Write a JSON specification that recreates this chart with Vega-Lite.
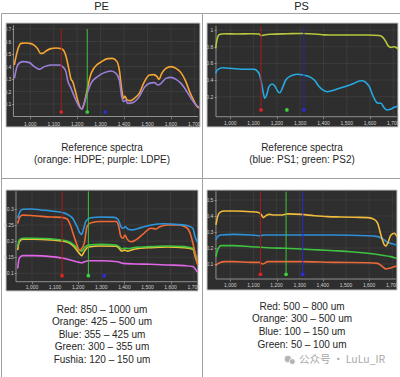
{
"$schema": "https://vega.github.io/schema/vega-lite/v6.json",
"padding": 0,
"spacing": 0,
"bounds": "flush",
"columns": 2,
"background": "white",
"config": {
 "view": {"stroke": "#a0a0a0", "strokeWidth": 1},
 "font": "Liberation Sans",
 "axis": {"zindex": 2, "domain": false, "grid": false, "labels": false, "tickColor": "#b8b8b8", "tickSize": 2, "tickWidth": 0.6, "titleFont": "Liberation Sans", "titleFontSize": 10, "titleFontWeight": "normal", "titleColor": "#262626"}
},
"datasets": {
 "xl": [{"g":1000,"l":"1,000"},{"g":1100,"l":"1,100"},{"g":1200,"l":"1,200"},{"g":1300,"l":"1,300"},{"g":1400,"l":"1,400"},{"g":1500,"l":"1,500"},{"g":1600,"l":"1,600"},{"g":1700,"l":"1,700"}],
 "peRef": [
  {"s":"HDPE","w":931.7,"a":0.412},{"s":"HDPE","w":946,"a":0.532},{"s":"HDPE","w":960,"a":0.585},{"s":"HDPE","w":981,"a":0.588},{"s":"HDPE","w":1003,"a":0.583},{"s":"HDPE","w":1017,"a":0.569},{"s":"HDPE","w":1031,"a":0.543},{"s":"HDPE","w":1043,"a":0.505},{"s":"HDPE","w":1053,"a":0.505},{"s":"HDPE","w":1067,"a":0.524},{"s":"HDPE","w":1088,"a":0.543},{"s":"HDPE","w":1110,"a":0.548},{"s":"HDPE","w":1131,"a":0.543},{"s":"HDPE","w":1141,"a":0.532},{"s":"HDPE","w":1152,"a":0.484},{"s":"HDPE","w":1164,"a":0.385},{"s":"HDPE","w":1174,"a":0.297},{"s":"HDPE","w":1181,"a":0.279},{"s":"HDPE","w":1191,"a":0.212},{"s":"HDPE","w":1202,"a":0.132},{"s":"HDPE","w":1213,"a":0.071},{"s":"HDPE","w":1221,"a":0.060},{"s":"HDPE","w":1230,"a":0.105},{"s":"HDPE","w":1242,"a":0.207},{"s":"HDPE","w":1256,"a":0.324},{"s":"HDPE","w":1273,"a":0.391},{"s":"HDPE","w":1302,"a":0.436},{"s":"HDPE","w":1330,"a":0.463},{"s":"HDPE","w":1351,"a":0.465},{"s":"HDPE","w":1370,"a":0.439},{"s":"HDPE","w":1380,"a":0.372},{"s":"HDPE","w":1390,"a":0.217},{"s":"HDPE","w":1398,"a":0.145},{"s":"HDPE","w":1404,"a":0.164},{"s":"HDPE","w":1413,"a":0.132},{"s":"HDPE","w":1427,"a":0.127},{"s":"HDPE","w":1444,"a":0.145},{"s":"HDPE","w":1465,"a":0.185},{"s":"HDPE","w":1487,"a":0.279},{"s":"HDPE","w":1508,"a":0.332},{"s":"HDPE","w":1526,"a":0.335},{"s":"HDPE","w":1541,"a":0.319},{"s":"HDPE","w":1549,"a":0.297},{"s":"HDPE","w":1561,"a":0.345},{"s":"HDPE","w":1579,"a":0.385},{"s":"HDPE","w":1600,"a":0.399},{"s":"HDPE","w":1622,"a":0.385},{"s":"HDPE","w":1643,"a":0.351},{"s":"HDPE","w":1664,"a":0.279},{"s":"HDPE","w":1683,"a":0.185},{"s":"HDPE","w":1700,"a":0.119},{"s":"HDPE","w":1712,"a":0.078},{"s":"HDPE","w":1721,"a":0.068},
  {"s":"LDPE","w":932,"a":0.305},{"s":"LDPE","w":946,"a":0.412},{"s":"LDPE","w":967,"a":0.439},{"s":"LDPE","w":996,"a":0.431},{"s":"LDPE","w":1017,"a":0.399},{"s":"LDPE","w":1038,"a":0.377},{"s":"LDPE","w":1060,"a":0.399},{"s":"LDPE","w":1088,"a":0.412},{"s":"LDPE","w":1124,"a":0.412},{"s":"LDPE","w":1138,"a":0.399},{"s":"LDPE","w":1152,"a":0.359},{"s":"LDPE","w":1159,"a":0.292},{"s":"LDPE","w":1174,"a":0.225},{"s":"LDPE","w":1188,"a":0.159},{"s":"LDPE","w":1209,"a":0.079},{"s":"LDPE","w":1219,"a":0.060},{"s":"LDPE","w":1230,"a":0.105},{"s":"LDPE","w":1245,"a":0.199},{"s":"LDPE","w":1259,"a":0.265},{"s":"LDPE","w":1287,"a":0.319},{"s":"LDPE","w":1316,"a":0.351},{"s":"LDPE","w":1344,"a":0.364},{"s":"LDPE","w":1366,"a":0.345},{"s":"LDPE","w":1380,"a":0.292},{"s":"LDPE","w":1390,"a":0.159},{"s":"LDPE","w":1398,"a":0.119},{"s":"LDPE","w":1408,"a":0.132},{"s":"LDPE","w":1415,"a":0.105},{"s":"LDPE","w":1437,"a":0.111},{"s":"LDPE","w":1465,"a":0.159},{"s":"LDPE","w":1487,"a":0.233},{"s":"LDPE","w":1508,"a":0.265},{"s":"LDPE","w":1529,"a":0.271},{"s":"LDPE","w":1546,"a":0.252},{"s":"LDPE","w":1558,"a":0.265},{"s":"LDPE","w":1579,"a":0.305},{"s":"LDPE","w":1600,"a":0.313},{"s":"LDPE","w":1622,"a":0.297},{"s":"LDPE","w":1643,"a":0.265},{"s":"LDPE","w":1664,"a":0.212},{"s":"LDPE","w":1686,"a":0.145},{"s":"LDPE","w":1707,"a":0.092},{"s":"LDPE","w":1721,"a":0.073}
 ],
 "psRef": [
  {"s":"PS2","w":937,"a":0.78},{"s":"PS2","w":944,"a":0.90},{"s":"PS2","w":953,"a":0.945},{"s":"PS2","w":974,"a":0.955},{"s":"PS2","w":1030,"a":0.952},{"s":"PS2","w":1089,"a":0.955},{"s":"PS2","w":1123,"a":0.952},{"s":"PS2","w":1133,"a":0.932},{"s":"PS2","w":1145,"a":0.94},{"s":"PS2","w":1173,"a":0.95},{"s":"PS2","w":1246,"a":0.955},{"s":"PS2","w":1304,"a":0.958},{"s":"PS2","w":1375,"a":0.95},{"s":"PS2","w":1404,"a":0.942},{"s":"PS2","w":1447,"a":0.94},{"s":"PS2","w":1518,"a":0.94},{"s":"PS2","w":1590,"a":0.94},{"s":"PS2","w":1640,"a":0.935},{"s":"PS2","w":1654,"a":0.915},{"s":"PS2","w":1668,"a":0.86},{"s":"PS2","w":1678,"a":0.81},{"s":"PS2","w":1690,"a":0.792},{"s":"PS2","w":1704,"a":0.80},{"s":"PS2","w":1712,"a":0.79},{"s":"PS2","w":1721,"a":0.772},
  {"s":"PS1","w":937,"a":0.481},{"s":"PS1","w":944,"a":0.520},{"s":"PS1","w":966,"a":0.548},{"s":"PS1","w":994,"a":0.541},{"s":"PS1","w":1059,"a":0.529},{"s":"PS1","w":1102,"a":0.529},{"s":"PS1","w":1123,"a":0.481},{"s":"PS1","w":1133,"a":0.380},{"s":"PS1","w":1142,"a":0.241},{"s":"PS1","w":1148,"a":0.181},{"s":"PS1","w":1156,"a":0.221},{"s":"PS1","w":1166,"a":0.320},{"s":"PS1","w":1180,"a":0.353},{"s":"PS1","w":1191,"a":0.329},{"s":"PS1","w":1205,"a":0.260},{"s":"PS1","w":1213,"a":0.248},{"s":"PS1","w":1223,"a":0.301},{"s":"PS1","w":1238,"a":0.400},{"s":"PS1","w":1259,"a":0.448},{"s":"PS1","w":1288,"a":0.469},{"s":"PS1","w":1313,"a":0.460},{"s":"PS1","w":1332,"a":0.448},{"s":"PS1","w":1361,"a":0.400},{"s":"PS1","w":1382,"a":0.320},{"s":"PS1","w":1397,"a":0.281},{"s":"PS1","w":1418,"a":0.260},{"s":"PS1","w":1447,"a":0.281},{"s":"PS1","w":1490,"a":0.320},{"s":"PS1","w":1532,"a":0.361},{"s":"PS1","w":1554,"a":0.388},{"s":"PS1","w":1569,"a":0.392},{"s":"PS1","w":1583,"a":0.368},{"s":"PS1","w":1597,"a":0.320},{"s":"PS1","w":1611,"a":0.221},{"s":"PS1","w":1626,"a":0.140},{"s":"PS1","w":1636,"a":0.121},{"s":"PS1","w":1647,"a":0.121},{"s":"PS1","w":1659,"a":0.073},{"s":"PS1","w":1673,"a":0.041},{"s":"PS1","w":1687,"a":0.049},{"s":"PS1","w":1704,"a":0.073},{"s":"PS1","w":1721,"a":0.089}
 ],
 "peSize": [
  {"s":"Fushia","w":938,"a":0.115},{"s":"Fushia","w":945,"a":0.147},{"s":"Fushia","w":960,"a":0.155},{"s":"Fushia","w":1010,"a":0.155},{"s":"Fushia","w":1082,"a":0.152},{"s":"Fushia","w":1154,"a":0.144},{"s":"Fushia","w":1183,"a":0.138},{"s":"Fushia","w":1205,"a":0.134},{"s":"Fushia","w":1215,"a":0.133},{"s":"Fushia","w":1227,"a":0.136},{"s":"Fushia","w":1244,"a":0.139},{"s":"Fushia","w":1299,"a":0.139},{"s":"Fushia","w":1371,"a":0.136},{"s":"Fushia","w":1392,"a":0.131},{"s":"Fushia","w":1443,"a":0.129},{"s":"Fushia","w":1515,"a":0.128},{"s":"Fushia","w":1587,"a":0.126},{"s":"Fushia","w":1659,"a":0.124},{"s":"Fushia","w":1696,"a":0.121},{"s":"Fushia","w":1710,"a":0.110},{"s":"Fushia","w":1717,"a":0.103},
  {"s":"Orange","w":938,"a":0.172},{"s":"Orange","w":945,"a":0.198},{"s":"Orange","w":960,"a":0.206},{"s":"Orange","w":1010,"a":0.206},{"s":"Orange","w":1082,"a":0.204},{"s":"Orange","w":1154,"a":0.197},{"s":"Orange","w":1183,"a":0.182},{"s":"Orange","w":1205,"a":0.162},{"s":"Orange","w":1215,"a":0.155},{"s":"Orange","w":1227,"a":0.169},{"s":"Orange","w":1244,"a":0.182},{"s":"Orange","w":1299,"a":0.185},{"s":"Orange","w":1364,"a":0.184},{"s":"Orange","w":1378,"a":0.177},{"s":"Orange","w":1388,"a":0.169},{"s":"Orange","w":1400,"a":0.172},{"s":"Orange","w":1414,"a":0.169},{"s":"Orange","w":1443,"a":0.175},{"s":"Orange","w":1515,"a":0.180},{"s":"Orange","w":1587,"a":0.182},{"s":"Orange","w":1659,"a":0.180},{"s":"Orange","w":1696,"a":0.175},{"s":"Orange","w":1710,"a":0.144},{"s":"Orange","w":1717,"a":0.130},
  {"s":"Green","w":938,"a":0.183},{"s":"Green","w":945,"a":0.204},{"s":"Green","w":960,"a":0.209},{"s":"Green","w":1010,"a":0.209},{"s":"Green","w":1082,"a":0.207},{"s":"Green","w":1154,"a":0.200},{"s":"Green","w":1183,"a":0.188},{"s":"Green","w":1205,"a":0.172},{"s":"Green","w":1215,"a":0.169},{"s":"Green","w":1227,"a":0.180},{"s":"Green","w":1244,"a":0.188},{"s":"Green","w":1299,"a":0.190},{"s":"Green","w":1364,"a":0.188},{"s":"Green","w":1378,"a":0.182},{"s":"Green","w":1388,"a":0.176},{"s":"Green","w":1400,"a":0.178},{"s":"Green","w":1414,"a":0.177},{"s":"Green","w":1443,"a":0.180},{"s":"Green","w":1515,"a":0.183},{"s":"Green","w":1587,"a":0.185},{"s":"Green","w":1659,"a":0.183},{"s":"Green","w":1696,"a":0.178},{"s":"Green","w":1710,"a":0.152},{"s":"Green","w":1717,"a":0.136},
  {"s":"Red","w":938,"a":0.255},{"s":"Red","w":948,"a":0.276},{"s":"Red","w":960,"a":0.281},{"s":"Red","w":1010,"a":0.279},{"s":"Red","w":1082,"a":0.275},{"s":"Red","w":1126,"a":0.274},{"s":"Red","w":1152,"a":0.269},{"s":"Red","w":1166,"a":0.250},{"s":"Red","w":1180,"a":0.219},{"s":"Red","w":1195,"a":0.188},{"s":"Red","w":1206,"a":0.172},{"s":"Red","w":1215,"a":0.176},{"s":"Red","w":1227,"a":0.196},{"s":"Red","w":1238,"a":0.245},{"s":"Red","w":1255,"a":0.257},{"s":"Red","w":1299,"a":0.261},{"s":"Red","w":1364,"a":0.261},{"s":"Red","w":1374,"a":0.250},{"s":"Red","w":1385,"a":0.214},{"s":"Red","w":1394,"a":0.209},{"s":"Red","w":1403,"a":0.219},{"s":"Red","w":1411,"a":0.207},{"s":"Red","w":1429,"a":0.198},{"s":"Red","w":1450,"a":0.204},{"s":"Red","w":1479,"a":0.221},{"s":"Red","w":1515,"a":0.240},{"s":"Red","w":1537,"a":0.238},{"s":"Red","w":1551,"a":0.244},{"s":"Red","w":1587,"a":0.250},{"s":"Red","w":1631,"a":0.250},{"s":"Red","w":1667,"a":0.243},{"s":"Red","w":1685,"a":0.224},{"s":"Red","w":1700,"a":0.183},{"s":"Red","w":1717,"a":0.126},
  {"s":"Blue","w":938,"a":0.271},{"s":"Blue","w":948,"a":0.292},{"s":"Blue","w":960,"a":0.299},{"s":"Blue","w":996,"a":0.300},{"s":"Blue","w":1039,"a":0.297},{"s":"Blue","w":1082,"a":0.294},{"s":"Blue","w":1126,"a":0.290},{"s":"Blue","w":1154,"a":0.283},{"s":"Blue","w":1176,"a":0.271},{"s":"Blue","w":1195,"a":0.245},{"s":"Blue","w":1209,"a":0.224},{"s":"Blue","w":1215,"a":0.221},{"s":"Blue","w":1224,"a":0.240},{"s":"Blue","w":1234,"a":0.263},{"s":"Blue","w":1255,"a":0.273},{"s":"Blue","w":1299,"a":0.275},{"s":"Blue","w":1356,"a":0.274},{"s":"Blue","w":1374,"a":0.266},{"s":"Blue","w":1385,"a":0.245},{"s":"Blue","w":1395,"a":0.240},{"s":"Blue","w":1404,"a":0.245},{"s":"Blue","w":1414,"a":0.238},{"s":"Blue","w":1436,"a":0.235},{"s":"Blue","w":1472,"a":0.242},{"s":"Blue","w":1515,"a":0.250},{"s":"Blue","w":1573,"a":0.254},{"s":"Blue","w":1631,"a":0.252},{"s":"Blue","w":1674,"a":0.248},{"s":"Blue","w":1696,"a":0.240},{"s":"Blue","w":1706,"a":0.214},{"s":"Blue","w":1717,"a":0.196}
 ],
 "psSize": [
  {"s":"Red","w":938,"a":0.090},{"s":"Red","w":948,"a":0.104},{"s":"Red","w":974,"a":0.115},{"s":"Red","w":1017,"a":0.115},{"s":"Red","w":1089,"a":0.110},{"s":"Red","w":1125,"a":0.110},{"s":"Red","w":1140,"a":0.100},{"s":"Red","w":1150,"a":0.106},{"s":"Red","w":1161,"a":0.115},{"s":"Red","w":1233,"a":0.115},{"s":"Red","w":1305,"a":0.115},{"s":"Red","w":1449,"a":0.110},{"s":"Red","w":1594,"a":0.108},{"s":"Red","w":1637,"a":0.104},{"s":"Red","w":1658,"a":0.083},{"s":"Red","w":1673,"a":0.069},{"s":"Red","w":1687,"a":0.073},{"s":"Red","w":1709,"a":0.083},{"s":"Red","w":1720,"a":0.088},
  {"s":"Green","w":938,"a":0.146},{"s":"Green","w":945,"a":0.188},{"s":"Green","w":960,"a":0.215},{"s":"Green","w":1017,"a":0.215},{"s":"Green","w":1089,"a":0.208},{"s":"Green","w":1161,"a":0.202},{"s":"Green","w":1233,"a":0.198},{"s":"Green","w":1305,"a":0.194},{"s":"Green","w":1377,"a":0.188},{"s":"Green","w":1449,"a":0.183},{"s":"Green","w":1521,"a":0.177},{"s":"Green","w":1594,"a":0.167},{"s":"Green","w":1651,"a":0.156},{"s":"Green","w":1694,"a":0.146},{"s":"Green","w":1720,"a":0.135},
  {"s":"Blue","w":938,"a":0.25},{"s":"Blue","w":945,"a":0.271},{"s":"Blue","w":960,"a":0.281},{"s":"Blue","w":1017,"a":0.285},{"s":"Blue","w":1089,"a":0.281},{"s":"Blue","w":1125,"a":0.277},{"s":"Blue","w":1147,"a":0.281},{"s":"Blue","w":1233,"a":0.281},{"s":"Blue","w":1305,"a":0.281},{"s":"Blue","w":1449,"a":0.281},{"s":"Blue","w":1594,"a":0.277},{"s":"Blue","w":1637,"a":0.271},{"s":"Blue","w":1666,"a":0.25},{"s":"Blue","w":1680,"a":0.235},{"s":"Blue","w":1694,"a":0.229},{"s":"Blue","w":1709,"a":0.223},{"s":"Blue","w":1720,"a":0.215},
  {"s":"Orange","w":938,"a":0.344},{"s":"Orange","w":945,"a":0.396},{"s":"Orange","w":955,"a":0.423},{"s":"Orange","w":974,"a":0.431},{"s":"Orange","w":1017,"a":0.431},{"s":"Orange","w":1089,"a":0.427},{"s":"Orange","w":1118,"a":0.423},{"s":"Orange","w":1133,"a":0.410},{"s":"Orange","w":1143,"a":0.390},{"s":"Orange","w":1154,"a":0.402},{"s":"Orange","w":1169,"a":0.410},{"s":"Orange","w":1190,"a":0.406},{"s":"Orange","w":1219,"a":0.406},{"s":"Orange","w":1248,"a":0.413},{"s":"Orange","w":1305,"a":0.410},{"s":"Orange","w":1363,"a":0.402},{"s":"Orange","w":1421,"a":0.396},{"s":"Orange","w":1478,"a":0.394},{"s":"Orange","w":1536,"a":0.392},{"s":"Orange","w":1594,"a":0.390},{"s":"Orange","w":1622,"a":0.379},{"s":"Orange","w":1637,"a":0.354},{"s":"Orange","w":1651,"a":0.281},{"s":"Orange","w":1666,"a":0.219},{"s":"Orange","w":1673,"a":0.213},{"s":"Orange","w":1680,"a":0.229},{"s":"Orange","w":1694,"a":0.281},{"s":"Orange","w":1709,"a":0.292},{"s":"Orange","w":1720,"a":0.271}
 ]
},
"concat": [
  {"width": 201, "height": 13, "data": {"values": [{"t": "PE"}]}, "mark": {"type": "text", "fontSize": 11, "color": "#222222", "font": "Liberation Sans"}, "encoding": {"text": {"field": "t"}}},
  {"width": 199, "height": 13, "data": {"values": [{"t": "PS"}]}, "mark": {"type": "text", "fontSize": 11, "color": "#222222", "font": "Liberation Sans"}, "encoding": {"text": {"field": "t"}}},
  {"width": 201, "height": 165, "resolve": {"scale": {"color": "independent"}},
   "layer": [
    {"data": {"values": [{}]}, "mark": {"type": "rect", "fill": "#2e2e2e", "stroke": "#c8c8c8", "strokeWidth": 1}, "encoding": {"x": {"datum": 896.3, "type": "quantitative"}, "x2": {"datum": 1724.3}, "y": {"datum": 0.748, "type": "quantitative"}, "y2": {"datum": -0.084}}},
    {"data": {"name": "xl"}, "mark": {"type": "rule", "color": "#444444", "strokeWidth": 0.6}, "encoding": {"x": {"field": "g", "type": "quantitative"}, "y": {"datum": 0, "type": "quantitative"}, "y2": {"datum": 0.73}}},
    {"data": {"values": [{"g":0.1,"l":"0.1"},{"g":0.2,"l":"0.2"},{"g":0.3,"l":"0.3"},{"g":0.4,"l":"0.4"},{"g":0.5,"l":"0.5"},{"g":0.6,"l":"0.6"},{"g":0.7,"l":"0.7"}]},
     "layer": [
      {"mark": {"type": "rule", "color": "#444444", "strokeWidth": 0.6}, "encoding": {"y": {"field": "g", "type": "quantitative"}, "x": {"datum": 928, "type": "quantitative"}, "x2": {"datum": 1716}}},
      {"mark": {"type": "text", "align": "right", "baseline": "middle", "fontSize": 5, "color": "#d0d0d0"}, "encoding": {"y": {"field": "g", "type": "quantitative"}, "x": {"datum": 919, "type": "quantitative"}, "text": {"field": "l"}}}
     ]},
    {"data": {"name": "xl"}, "mark": {"type": "text", "align": "center", "baseline": "middle", "fontSize": 5, "color": "#d0d0d0"}, "encoding": {"x": {"field": "g", "type": "quantitative"}, "y": {"datum": -0.056, "type": "quantitative"}, "text": {"field": "l"}}},
    {"data": {"values": [{}]}, "mark": {"type": "rule", "color": "#a8a8a8", "strokeWidth": 0.8}, "encoding": {"x": {"datum": 928, "type": "quantitative"}, "x2": {"datum": 1716}, "y": {"datum": 0, "type": "quantitative"}}},
    {"data": {"values": [{}]}, "mark": {"type": "rule", "color": "#a8a8a8", "strokeWidth": 0.8}, "encoding": {"x": {"datum": 928, "type": "quantitative"}, "y": {"datum": 0, "type": "quantitative"}, "y2": {"datum": 0.73}}},
    {"data": {"name": "peRef"}, "mark": {"type": "line", "strokeWidth": 1.6, "interpolate": "monotone"},
     "encoding": {
      "x": {"field": "w", "type": "quantitative", "scale": {"domain": [874.9, 1732.8], "nice": false, "zero": false},
        "axis": {"zindex": 2, "labels": false, "orient": "bottom", "offset": -61.3, "values": [1000,1100,1200,1300,1400,1500,1600,1700], "title": ["Reference spectra", "(orange: HDPE; purple: LDPE)"], "titleY": 25.3, "titleBaseline": "top", "titleLineHeight": 12, "titleAnchor": "middle"}},
      "y": {"field": "a", "type": "quantitative", "scale": {"domain": [-0.492, 0.828], "nice": false, "zero": false},
        "axis": {"zindex": 2, "labels": false, "orient": "left", "offset": -12.5, "values": [0.1,0.2,0.3,0.4,0.5,0.6,0.7], "title": null}},
      "color": {"field": "s", "type": "nominal", "scale": {"domain": ["HDPE", "LDPE"], "range": ["#f7a531", "#9a7ed8"]}, "legend": null}}},
    {"data": {"values": [{"m":"r","w":1132},{"m":"g","w":1243}]}, "mark": {"type": "rule", "strokeWidth": 1},
     "encoding": {"x": {"field": "w", "type": "quantitative"}, "y": {"datum": 0.03, "type": "quantitative"}, "y2": {"datum": 0.7}, "color": {"field": "m", "type": "nominal", "scale": {"domain": ["r","g","b"], "range": ["#a51d1d","#3cc43c","#2b2bd0"]}, "legend": null}}},
    {"data": {"values": [{"m":"r","w":1132},{"m":"g","w":1243},{"m":"b","w":1320}]}, "mark": {"type": "point", "filled": true, "opacity": 1, "size": 14, "shape": "circle"},
     "encoding": {"x": {"field": "w", "type": "quantitative"}, "y": {"datum": 0.036, "type": "quantitative"}, "color": {"field": "m", "type": "nominal", "scale": {"domain": ["r","g","b"], "range": ["#e02424","#3cd23c","#2b2be0"]}, "legend": null}}}
   ]},
  {"width": 199, "height": 165, "resolve": {"scale": {"color": "independent"}},
   "layer": [
    {"data": {"values": [{}]}, "mark": {"type": "rect", "fill": "#2e2e2e", "stroke": "#c8c8c8", "strokeWidth": 1}, "encoding": {"x": {"datum": 899.9, "type": "quantitative"}, "x2": {"datum": 1720}, "y": {"datum": 1.084, "type": "quantitative"}, "y2": {"datum": -0.163}}},
    {"data": {"name": "xl"}, "mark": {"type": "rule", "color": "#444444", "strokeWidth": 0.6}, "encoding": {"x": {"field": "g", "type": "quantitative"}, "y": {"datum": -0.04, "type": "quantitative"}, "y2": {"datum": 1.05}}},
    {"data": {"values": [{"g":0.2,"l":"0.2"},{"g":0.4,"l":"0.4"},{"g":0.6,"l":"0.6"},{"g":0.8,"l":"0.8"},{"g":1.0,"l":"1"}]},
     "layer": [
      {"mark": {"type": "rule", "color": "#444444", "strokeWidth": 0.6}, "encoding": {"y": {"field": "g", "type": "quantitative"}, "x": {"datum": 938.6, "type": "quantitative"}, "x2": {"datum": 1715.6}}},
      {"mark": {"type": "text", "align": "right", "baseline": "middle", "fontSize": 5, "color": "#d0d0d0"}, "encoding": {"y": {"field": "g", "type": "quantitative"}, "x": {"datum": 927, "type": "quantitative"}, "text": {"field": "l"}}}
     ]},
    {"data": {"name": "xl"}, "mark": {"type": "text", "align": "center", "baseline": "middle", "fontSize": 5, "color": "#d0d0d0"}, "encoding": {"x": {"field": "g", "type": "quantitative"}, "y": {"datum": -0.111, "type": "quantitative"}, "text": {"field": "l"}}},
    {"data": {"values": [{}]}, "mark": {"type": "rule", "color": "#a8a8a8", "strokeWidth": 0.8}, "encoding": {"x": {"datum": 938.6, "type": "quantitative"}, "x2": {"datum": 1715.6}, "y": {"datum": -0.04, "type": "quantitative"}}},
    {"data": {"values": [{}]}, "mark": {"type": "rule", "color": "#a8a8a8", "strokeWidth": 0.8}, "encoding": {"x": {"datum": 938.6, "type": "quantitative"}, "y": {"datum": -0.04, "type": "quantitative"}, "y2": {"datum": 1.05}}},
    {"data": {"name": "psRef"}, "mark": {"type": "line", "strokeWidth": 1.6, "interpolate": "monotone"},
     "encoding": {
      "x": {"field": "w", "type": "quantitative", "scale": {"domain": [878.5, 1732.9], "nice": false, "zero": false},
        "axis": {"zindex": 2, "labels": false, "orient": "bottom", "offset": -61.3, "values": [1000,1100,1200,1300,1400,1500,1600,1700], "title": ["Reference spectra", "(blue: PS1; green: PS2)"], "titleY": 25.3, "titleBaseline": "top", "titleLineHeight": 12, "titleAnchor": "middle"}},
      "y": {"field": "a", "type": "quantitative", "scale": {"domain": [-0.775, 1.204], "nice": false, "zero": false},
        "axis": {"zindex": 2, "labels": false, "orient": "left", "offset": -14, "values": [0.2,0.4,0.6,0.8,1.0], "title": null}},
      "color": {"field": "s", "type": "nominal", "scale": {"domain": ["PS2", "PS1"], "range": ["#b8c73e", "#27a9e1"]}, "legend": null}}},
    {"data": {"values": [{"m":"r","w":1132},{"m":"b","w":1316}]}, "mark": {"type": "rule", "strokeWidth": 1},
     "encoding": {"x": {"field": "w", "type": "quantitative"}, "y": {"datum": 0.065, "type": "quantitative"}, "y2": {"datum": 1.05}, "color": {"field": "m", "type": "nominal", "scale": {"domain": ["r","g","b"], "range": ["#a51d1d","#3cc43c","#2a2a9a"]}, "legend": null}}},
    {"data": {"values": [{"m":"r","w":1132},{"m":"g","w":1243},{"m":"b","w":1316}]}, "mark": {"type": "point", "filled": true, "opacity": 1, "size": 14, "shape": "circle"},
     "encoding": {"x": {"field": "w", "type": "quantitative"}, "y": {"datum": 0.041, "type": "quantitative"}, "color": {"field": "m", "type": "nominal", "scale": {"domain": ["r","g","b"], "range": ["#e02424","#3cd23c","#2b2be0"]}, "legend": null}}}
   ]},
  {"width": 201, "height": 199, "resolve": {"scale": {"color": "independent"}},
   "layer": [
    {"data": {"values": [{}]}, "mark": {"type": "rect", "fill": "#2e2e2e", "stroke": "#c8c8c8", "strokeWidth": 1}, "encoding": {"x": {"datum": 887.4, "type": "quantitative"}, "x2": {"datum": 1718.6}, "y": {"datum": 0.359, "type": "quantitative"}, "y2": {"datum": 0.045}}},
    {"data": {"name": "xl"}, "mark": {"type": "rule", "color": "#444444", "strokeWidth": 0.6}, "encoding": {"x": {"field": "g", "type": "quantitative"}, "y": {"datum": 0.0739, "type": "quantitative"}, "y2": {"datum": 0.355}}},
    {"data": {"values": [{"g":0.1,"l":"0.1"},{"g":0.15,"l":"0.15"},{"g":0.2,"l":"0.2"},{"g":0.25,"l":"0.25"},{"g":0.3,"l":"0.3"}]},
     "layer": [
      {"mark": {"type": "rule", "color": "#444444", "strokeWidth": 0.6}, "encoding": {"y": {"field": "g", "type": "quantitative"}, "x": {"datum": 930.7, "type": "quantitative"}, "x2": {"datum": 1714}}},
      {"mark": {"type": "text", "align": "right", "baseline": "middle", "fontSize": 5, "color": "#d0d0d0"}, "encoding": {"y": {"field": "g", "type": "quantitative"}, "x": {"datum": 921, "type": "quantitative"}, "text": {"field": "l"}}}
     ]},
    {"data": {"name": "xl"}, "mark": {"type": "text", "align": "center", "baseline": "middle", "fontSize": 5, "color": "#d0d0d0"}, "encoding": {"x": {"field": "g", "type": "quantitative"}, "y": {"datum": 0.0574, "type": "quantitative"}, "text": {"field": "l"}}},
    {"data": {"values": [{}]}, "mark": {"type": "rule", "color": "#a8a8a8", "strokeWidth": 0.8}, "encoding": {"x": {"datum": 930.7, "type": "quantitative"}, "x2": {"datum": 1714}, "y": {"datum": 0.0739, "type": "quantitative"}}},
    {"data": {"values": [{}]}, "mark": {"type": "rule", "color": "#a8a8a8", "strokeWidth": 0.8}, "encoding": {"x": {"datum": 930.7, "type": "quantitative"}, "y": {"datum": 0.0739, "type": "quantitative"}, "y2": {"datum": 0.355}}},
    {"data": {"name": "peSize"}, "mark": {"type": "line", "strokeWidth": 1.6, "interpolate": "monotone"},
     "encoding": {
      "x": {"field": "w", "type": "quantitative", "scale": {"domain": [865.8, 1735.9], "nice": false, "zero": false},
        "axis": {"zindex": 2, "labels": false, "orient": "bottom", "offset": -95.3, "values": [1000,1100,1200,1300,1400,1500,1600,1700], "title": ["Red: 850 – 1000 um", "Orange: 425 – 500 um", "Blue: 355 – 425 um", "Green: 300 – 355 um", "Fushia: 120 – 150 um"], "titleY": 22.4, "titleBaseline": "top", "titleLineHeight": 12.5, "titleAnchor": "middle"}},
      "y": {"field": "a", "type": "quantitative", "scale": {"domain": [-0.2225, 0.3964], "nice": false, "zero": false},
        "axis": {"zindex": 2, "labels": false, "orient": "left", "offset": -15, "values": [0.1,0.15,0.2,0.25,0.3], "title": null}},
      "color": {"field": "s", "type": "nominal", "scale": {"domain": ["Fushia", "Orange", "Green", "Red", "Blue"], "range": ["#e066e6", "#f2c13a", "#41c441", "#ee6a35", "#2f96dc"]}, "legend": null}}},
    {"data": {"values": [{"m":"r","w":1130},{"m":"g","w":1244}]}, "mark": {"type": "rule", "strokeWidth": 1},
     "encoding": {"x": {"field": "w", "type": "quantitative"}, "y": {"datum": 0.095, "type": "quantitative"}, "y2": {"datum": 0.355}, "color": {"field": "m", "type": "nominal", "scale": {"domain": ["r","g","b"], "range": ["#a51d1d","#3cc43c","#2b2bd0"]}, "legend": null}}},
    {"data": {"values": [{"m":"r","w":1130},{"m":"g","w":1244},{"m":"b","w":1313}]}, "mark": {"type": "point", "filled": true, "opacity": 1, "size": 14, "shape": "circle"},
     "encoding": {"x": {"field": "w", "type": "quantitative"}, "y": {"datum": 0.0925, "type": "quantitative"}, "color": {"field": "m", "type": "nominal", "scale": {"domain": ["r","g","b"], "range": ["#e02424","#3cd23c","#2b2be0"]}, "legend": null}}}
   ]},
  {"width": 199, "height": 199, "resolve": {"scale": {"color": "independent"}},
   "layer": [
    {"data": {"values": [{}]}, "mark": {"type": "rect", "fill": "#2e2e2e", "stroke": "#c8c8c8", "strokeWidth": 1}, "encoding": {"x": {"datum": 899.3, "type": "quantitative"}, "x2": {"datum": 1720.4}, "y": {"datum": 0.5625, "type": "quantitative"}, "y2": {"datum": -0.0625}}},
    {"data": {"name": "xl"}, "mark": {"type": "rule", "color": "#444444", "strokeWidth": 0.6}, "encoding": {"x": {"field": "g", "type": "quantitative"}, "y": {"datum": 0.00625, "type": "quantitative"}, "y2": {"datum": 0.555}}},
    {"data": {"values": [{"g":0.1,"l":"0.1"},{"g":0.2,"l":"0.2"},{"g":0.3,"l":"0.3"},{"g":0.4,"l":"0.4"},{"g":0.5,"l":"0.5"}]},
     "layer": [
      {"mark": {"type": "rule", "color": "#444444", "strokeWidth": 0.6}, "encoding": {"y": {"field": "g", "type": "quantitative"}, "x": {"datum": 938, "type": "quantitative"}, "x2": {"datum": 1716}}},
      {"mark": {"type": "text", "align": "right", "baseline": "middle", "fontSize": 5, "color": "#d0d0d0"}, "encoding": {"y": {"field": "g", "type": "quantitative"}, "x": {"datum": 927, "type": "quantitative"}, "text": {"field": "l"}}}
     ]},
    {"data": {"name": "xl"}, "mark": {"type": "text", "align": "center", "baseline": "middle", "fontSize": 5, "color": "#d0d0d0"}, "encoding": {"x": {"field": "g", "type": "quantitative"}, "y": {"datum": -0.034, "type": "quantitative"}, "text": {"field": "l"}}},
    {"data": {"values": [{}]}, "mark": {"type": "rule", "color": "#a8a8a8", "strokeWidth": 0.8}, "encoding": {"x": {"datum": 938, "type": "quantitative"}, "x2": {"datum": 1716}, "y": {"datum": 0.00625, "type": "quantitative"}}},
    {"data": {"values": [{}]}, "mark": {"type": "rule", "color": "#a8a8a8", "strokeWidth": 0.8}, "encoding": {"x": {"datum": 938, "type": "quantitative"}, "y": {"datum": 0.00625, "type": "quantitative"}, "y2": {"datum": 0.555}}},
    {"data": {"name": "psSize"}, "mark": {"type": "line", "strokeWidth": 1.6, "interpolate": "monotone"},
     "encoding": {
      "x": {"field": "w", "type": "quantitative", "scale": {"domain": [877.7, 1737.7], "nice": false, "zero": false},
        "axis": {"zindex": 2, "labels": false, "orient": "bottom", "offset": -98, "values": [1000,1100,1200,1300,1400,1500,1600,1700], "title": ["Red: 500 – 800 um", "Orange: 300 – 500 um", "Blue: 100 – 150 um", "Green: 50 – 100 um"], "titleY": 22.4, "titleBaseline": "top", "titleLineHeight": 12.6, "titleAnchor": "middle"}},
      "y": {"field": "a", "type": "quantitative", "scale": {"domain": [-0.60625, 0.6375], "nice": false, "zero": false},
        "axis": {"zindex": 2, "labels": false, "orient": "left", "offset": -14, "values": [0.1,0.2,0.3,0.4,0.5], "title": null}},
      "color": {"field": "s", "type": "nominal", "scale": {"domain": ["Red", "Green", "Blue", "Orange"], "range": ["#ea6a3a", "#3fc23f", "#2f90d8", "#f1bb3c"]}, "legend": null}}},
    {"data": {"values": [{"m":"r","w":1130},{"m":"g","w":1241},{"m":"b","w":1313}]}, "mark": {"type": "rule", "strokeWidth": 1},
     "encoding": {"x": {"field": "w", "type": "quantitative"}, "y": {"datum": 0.0375, "type": "quantitative"}, "y2": {"datum": 0.552}, "color": {"field": "m", "type": "nominal", "scale": {"domain": ["r","g","b"], "range": ["#a51d1d","#3cc43c","#2b2bd0"]}, "legend": null}}},
    {"data": {"values": [{"m":"r","w":1130},{"m":"g","w":1241},{"m":"b","w":1313}]}, "mark": {"type": "point", "filled": true, "opacity": 1, "size": 14, "shape": "circle"},
     "encoding": {"x": {"field": "w", "type": "quantitative"}, "y": {"datum": 0.0356, "type": "quantitative"}, "color": {"field": "m", "type": "nominal", "scale": {"domain": ["r","g","b"], "range": ["#e02424","#3cd23c","#2b2be0"]}, "legend": null}}},
    {"data": {"values": [{"k":"big","w":1249,"a":-0.494},{"k":"small","w":1268,"a":-0.51}]}, "mark": {"type": "point", "filled": true, "opacity": 1, "shape": "circle", "color": "#b4b4b4", "stroke": "white", "strokeWidth": 0.8},
     "encoding": {"x": {"field": "w", "type": "quantitative"}, "y": {"field": "a", "type": "quantitative"}, "size": {"field": "k", "type": "nominal", "scale": {"domain": ["big","small"], "range": [55, 35]}, "legend": null}}},
    {"data": {"values": [{"t": "公众号 · LuLu_IR"}]}, "mark": {"type": "text", "align": "left", "baseline": "middle", "fontSize": 10.5, "color": "#a8a8a8", "font": "Noto Sans CJK SC"},
     "encoding": {"text": {"field": "t"}, "x": {"datum": 1297, "type": "quantitative"}, "y": {"datum": -0.5, "type": "quantitative"}}}
   ]}
]
}
